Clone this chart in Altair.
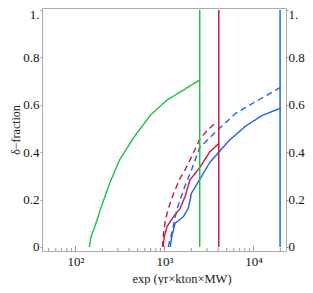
import altair as alt
import pandas as pd

# ---- data ----
green_x = [143, 149, 165, 195, 242, 312, 457, 697, 1066, 1630, 2487]
green_y = [0.0, 0.043, 0.086, 0.170, 0.269, 0.367, 0.465, 0.557, 0.620, 0.662, 0.705]

red_x = [962, 995, 1066, 1264, 1497, 1700, 1929, 2487, 3209, 4074]
red_y = [0.0, 0.043, 0.086, 0.128, 0.163, 0.212, 0.283, 0.335, 0.400, 0.437]

red_dash_x = [950, 975, 1020, 1100, 1264, 1500, 1700, 2188, 2487, 3000, 3640]
red_dash_y = [0.0, 0.06, 0.11, 0.16, 0.226, 0.29, 0.325, 0.409, 0.455, 0.49, 0.52]

blue_x = [1158, 1206, 1314, 1630, 1850, 2010, 2487, 3209, 4074, 5350, 8150, 12500, 19900]
blue_y = [0.0, 0.043, 0.10, 0.128, 0.163, 0.227, 0.285, 0.355, 0.400, 0.450, 0.510, 0.555, 0.585]

blue_dash_x = [1100, 1206, 1372, 1630, 2010, 2487, 4130, 6320, 10500, 19900]
blue_dash_y = [0.0, 0.058, 0.156, 0.24, 0.325, 0.42, 0.50, 0.564, 0.613, 0.672]

vline_x = [2487, 4074, 19900]
vline_series = ["green", "red", "blue"]

y_ticks = [0, 0.2, 0.4, 0.6, 0.8, 1.0]
major_ticks = [100, 1000, 10000]
minor_ticks = [50, 60, 70, 80, 90,
               200, 300, 400, 500, 600, 700, 800, 900,
               2000, 3000, 4000, 5000, 6000, 7000, 8000, 9000, 20000]

series_names = ["green", "red", "blue"]
series_colors = ["#1fbf45", "#c8174a", "#1f63e0"]

rows = []
for name, style, xs, ys in [
    ("green", "solid", green_x, green_y),
    ("red", "solid", red_x, red_y),
    ("red", "dashed", red_dash_x, red_dash_y),
    ("blue", "solid", blue_x, blue_y),
    ("blue", "dashed", blue_dash_x, blue_dash_y),
]:
    for i, (xv, yv) in enumerate(zip(xs, ys)):
        rows.append({"x": xv, "y": yv, "series": name, "style": style,
                     "key": name + style, "order": i})
df = pd.DataFrame(rows)

vdf = pd.DataFrame({"x": vline_x, "series": vline_series,
                    "y0": [0.0] * 3, "y1": [1.0] * 3})
minor_df = pd.DataFrame({"x": minor_ticks})
major_df = pd.DataFrame({"x": major_ticks})

W, H = 244, 243
x_scale = alt.Scale(type="log", domain=[42.0, 23200], nice=False)
y_scale = alt.Scale(domain=[-0.0169, 1.0084], nice=False)
color_scale = alt.Scale(domain=series_names, range=series_colors)

FONT = "Liberation Serif"
ylab_expr = "datum.value == 1 ? '1.' : datum.value == 0 ? '0' : format(datum.value, '.1f')"
xlab_expr = "datum.value == 100 ? '10²' : datum.value == 1000 ? '10³' : '10⁴'"
top_offset = {"condition": {"test": "datum.value == 1", "value": 5}, "value": 0}

lines = alt.Chart(df).mark_line(strokeWidth=1.4, clip=True).encode(
    x=alt.X("x:Q", scale=x_scale,
            axis=alt.Axis(values=major_ticks, labelExpr=xlab_expr, ticks=False,
                          domain=False, grid=False, labelFont=FONT, labelFontSize=13,
                          labelPadding=4, labelColor="#111111", title=None)),
    y=alt.Y("y:Q", scale=y_scale,
            axis=alt.Axis(values=y_ticks, labelExpr=ylab_expr, labelOffset=top_offset,
                          tickSize=2, tickColor="#999999", domain=False, grid=False,
                          labelFont=FONT, labelFontSize=13, labelPadding=1,
                          labelColor="#111111",
                          title="δ−fraction", titleFont=FONT, titleFontSize=12,
                          titleFontWeight="normal", titleColor="#222222",
                          titleX=-27, titleY=H / 2, titleAlign="center",
                          titleBaseline="middle")),
    color=alt.Color("series:N", scale=color_scale, legend=None),
    strokeDash=alt.StrokeDash("style:N",
                              scale=alt.Scale(domain=["solid", "dashed"], range=[[1, 0], [6, 4]]),
                              legend=None),
    detail="key:N",
    order="order:Q",
)

vlines = alt.Chart(vdf).mark_rule(strokeWidth=1.5).encode(
    x=alt.X("x:Q", scale=x_scale),
    y=alt.Y("y0:Q", scale=y_scale, axis=None),
    y2="y1:Q",
    color=alt.Color("series:N", scale=color_scale, legend=None),
)

minor = alt.Chart(minor_df).mark_rule(color="#999999", strokeWidth=1).encode(
    x=alt.X("x:Q", scale=x_scale),
    y=alt.value(H),
    y2=alt.value(H - 3),
)
major = alt.Chart(major_df).mark_rule(color="#999999", strokeWidth=1).encode(
    x=alt.X("x:Q", scale=x_scale),
    y=alt.value(H),
    y2=alt.value(H - 5),
)

right_axis = alt.Chart(vdf).mark_point(opacity=0).encode(
    y=alt.Y("y0:Q", scale=y_scale,
            axis=alt.Axis(orient="right", values=y_ticks, labelOffset=top_offset,
                          labelExpr=ylab_expr, tickSize=2, tickColor="#999999",
                          domain=False, grid=False, labelFont=FONT, labelFontSize=13,
                          labelPadding=0, labelColor="#111111", title=None)),
)

chart = alt.layer(lines, vlines, minor, major, right_axis).resolve_axis(
    y="independent"
).properties(
    width=W, height=H,
    autosize=alt.AutoSizeParams(type="none"),
    padding={"left": 34, "top": 0, "right": 19, "bottom": 34},
    title=alt.TitleParams(text="exp (yr×kton×MW)", orient="bottom", anchor="middle",
                          font=FONT, fontSize=12.5, fontWeight="normal",
                          color="#222222", dx=18, offset=5),
).configure_view(stroke="#aaaaaa", strokeWidth=1)

chart.save("out.html", embed_options={"renderer": "svg", "actions": False})
